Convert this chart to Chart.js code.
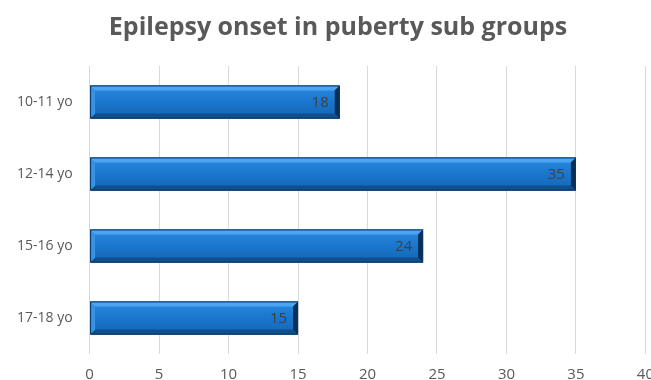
<!DOCTYPE html>
<html>
<head>
<meta charset="utf-8">
<script src="https://cdn.jsdelivr.net/npm/chart.js@4.4.0/dist/chart.umd.min.js"></script>
<style>
html,body{margin:0;padding:0;background:#fff;overflow:hidden;}
#wrap{position:relative;width:666px;height:396px;}
</style>
</head>
<body>
<div id="wrap"><canvas id="c"></canvas></div>
<script>
const categories = ["10-11 yo", "12-14 yo", "15-16 yo", "17-18 yo"];
const values = [18, 35, 24, 15];
const xTicks = [0, 5, 10, 15, 20, 25, 30, 35, 40];
const titleText = "Epilepsy onset in puberty sub groups";

const bevelPlugin = {
  id: 'bevel',
  afterDatasetsDraw(chart) {
    const ctx = chart.ctx;
    const meta = chart.getDatasetMeta(0);
    meta.data.forEach((bar, i) => {
      const x0 = bar.base, x1 = bar.x;
      const y0 = bar.y - bar.height / 2, y1 = bar.y + bar.height / 2;
      const b = 5;
      ctx.save();
      const g = ctx.createLinearGradient(0, y0, 0, y1);
      g.addColorStop(0, '#2a8ae2');
      g.addColorStop(0.5, '#1a76cc');
      g.addColorStop(1, '#1566b2');
      ctx.fillStyle = g;
      ctx.fillRect(x0, y0, x1 - x0, y1 - y0);
      ctx.fillStyle = '#4ba5f0';
      ctx.beginPath();
      ctx.moveTo(x0, y0); ctx.lineTo(x1, y0); ctx.lineTo(x1 - b, y0 + b); ctx.lineTo(x0 + b, y0 + b); ctx.closePath(); ctx.fill();
      ctx.fillStyle = '#0f4f8c';
      ctx.beginPath();
      ctx.moveTo(x0, y1); ctx.lineTo(x1, y1); ctx.lineTo(x1 - b, y1 - b); ctx.lineTo(x0 + b, y1 - b); ctx.closePath(); ctx.fill();
      ctx.fillStyle = '#3794e4';
      ctx.beginPath();
      ctx.moveTo(x0, y0); ctx.lineTo(x0 + b, y0 + b); ctx.lineTo(x0 + b, y1 - b); ctx.lineTo(x0, y1); ctx.closePath(); ctx.fill();
      ctx.fillStyle = '#082f56';
      ctx.beginPath();
      ctx.moveTo(x1, y0); ctx.lineTo(x1 - b, y0 + b); ctx.lineTo(x1 - b, y1 - b); ctx.lineTo(x1, y1); ctx.closePath(); ctx.fill();
      ctx.strokeStyle = '#0b3560';
      ctx.lineWidth = 1;
      ctx.strokeRect(x0 + 0.5, y0 + 0.5, x1 - x0 - 1, y1 - y0 - 1);
      ctx.fillStyle = '#404040';
      ctx.font = '15px "Open Sans", sans-serif';
      ctx.textAlign = 'right';
      ctx.textBaseline = 'middle';
      ctx.fillText(String(values[i]), x1 - 11, bar.y + 1);
      ctx.restore();
    });
  }
};

const titlePlugin = {
  id: 'customTitle',
  afterDraw(chart) {
    const ctx = chart.ctx;
    ctx.save();
    ctx.fillStyle = '#595959';
    ctx.font = 'bold 25px "Open Sans", sans-serif';
    ctx.textAlign = 'center';
    ctx.textBaseline = 'middle';
    ctx.fillText(titleText, 338, 28);
    ctx.restore();
  }
};

new Chart(document.getElementById('c'), {
  type: 'bar',
  data: {
    labels: categories,
    datasets: [{
      data: values,
      backgroundColor: '#1a78c8',
      borderWidth: 0,
      barPercentage: 0.92,
      categoryPercentage: 0.5
    }]
  },
  options: {
    indexAxis: 'y',
    responsive: true,
    maintainAspectRatio: false,
    animation: false,
    layout: { padding: { left: 8, right: 20, top: 66, bottom: 0 } },
    plugins: {
      legend: { display: false },
      tooltip: { enabled: false },
      title: { display: false }
    },
    scales: {
      x: {
        min: 0, max: 40,
        afterBuildTicks(scale) { scale.ticks = xTicks.map(v => ({ value: v })); },
        grid: { color: '#d9d9d9', lineWidth: 1, drawTicks: false },
        border: { display: false },
        ticks: { color: '#595959', font: { family: '"Open Sans", sans-serif', size: 15 }, padding: 12 }
      },
      y: {
        grid: { display: false },
        border: { display: false },
        ticks: { color: '#595959', font: { family: '"Open Sans", sans-serif', size: 14 }, padding: 9 }
      }
    }
  },
  plugins: [bevelPlugin, titlePlugin]
});
</script>
</body>
</html>
